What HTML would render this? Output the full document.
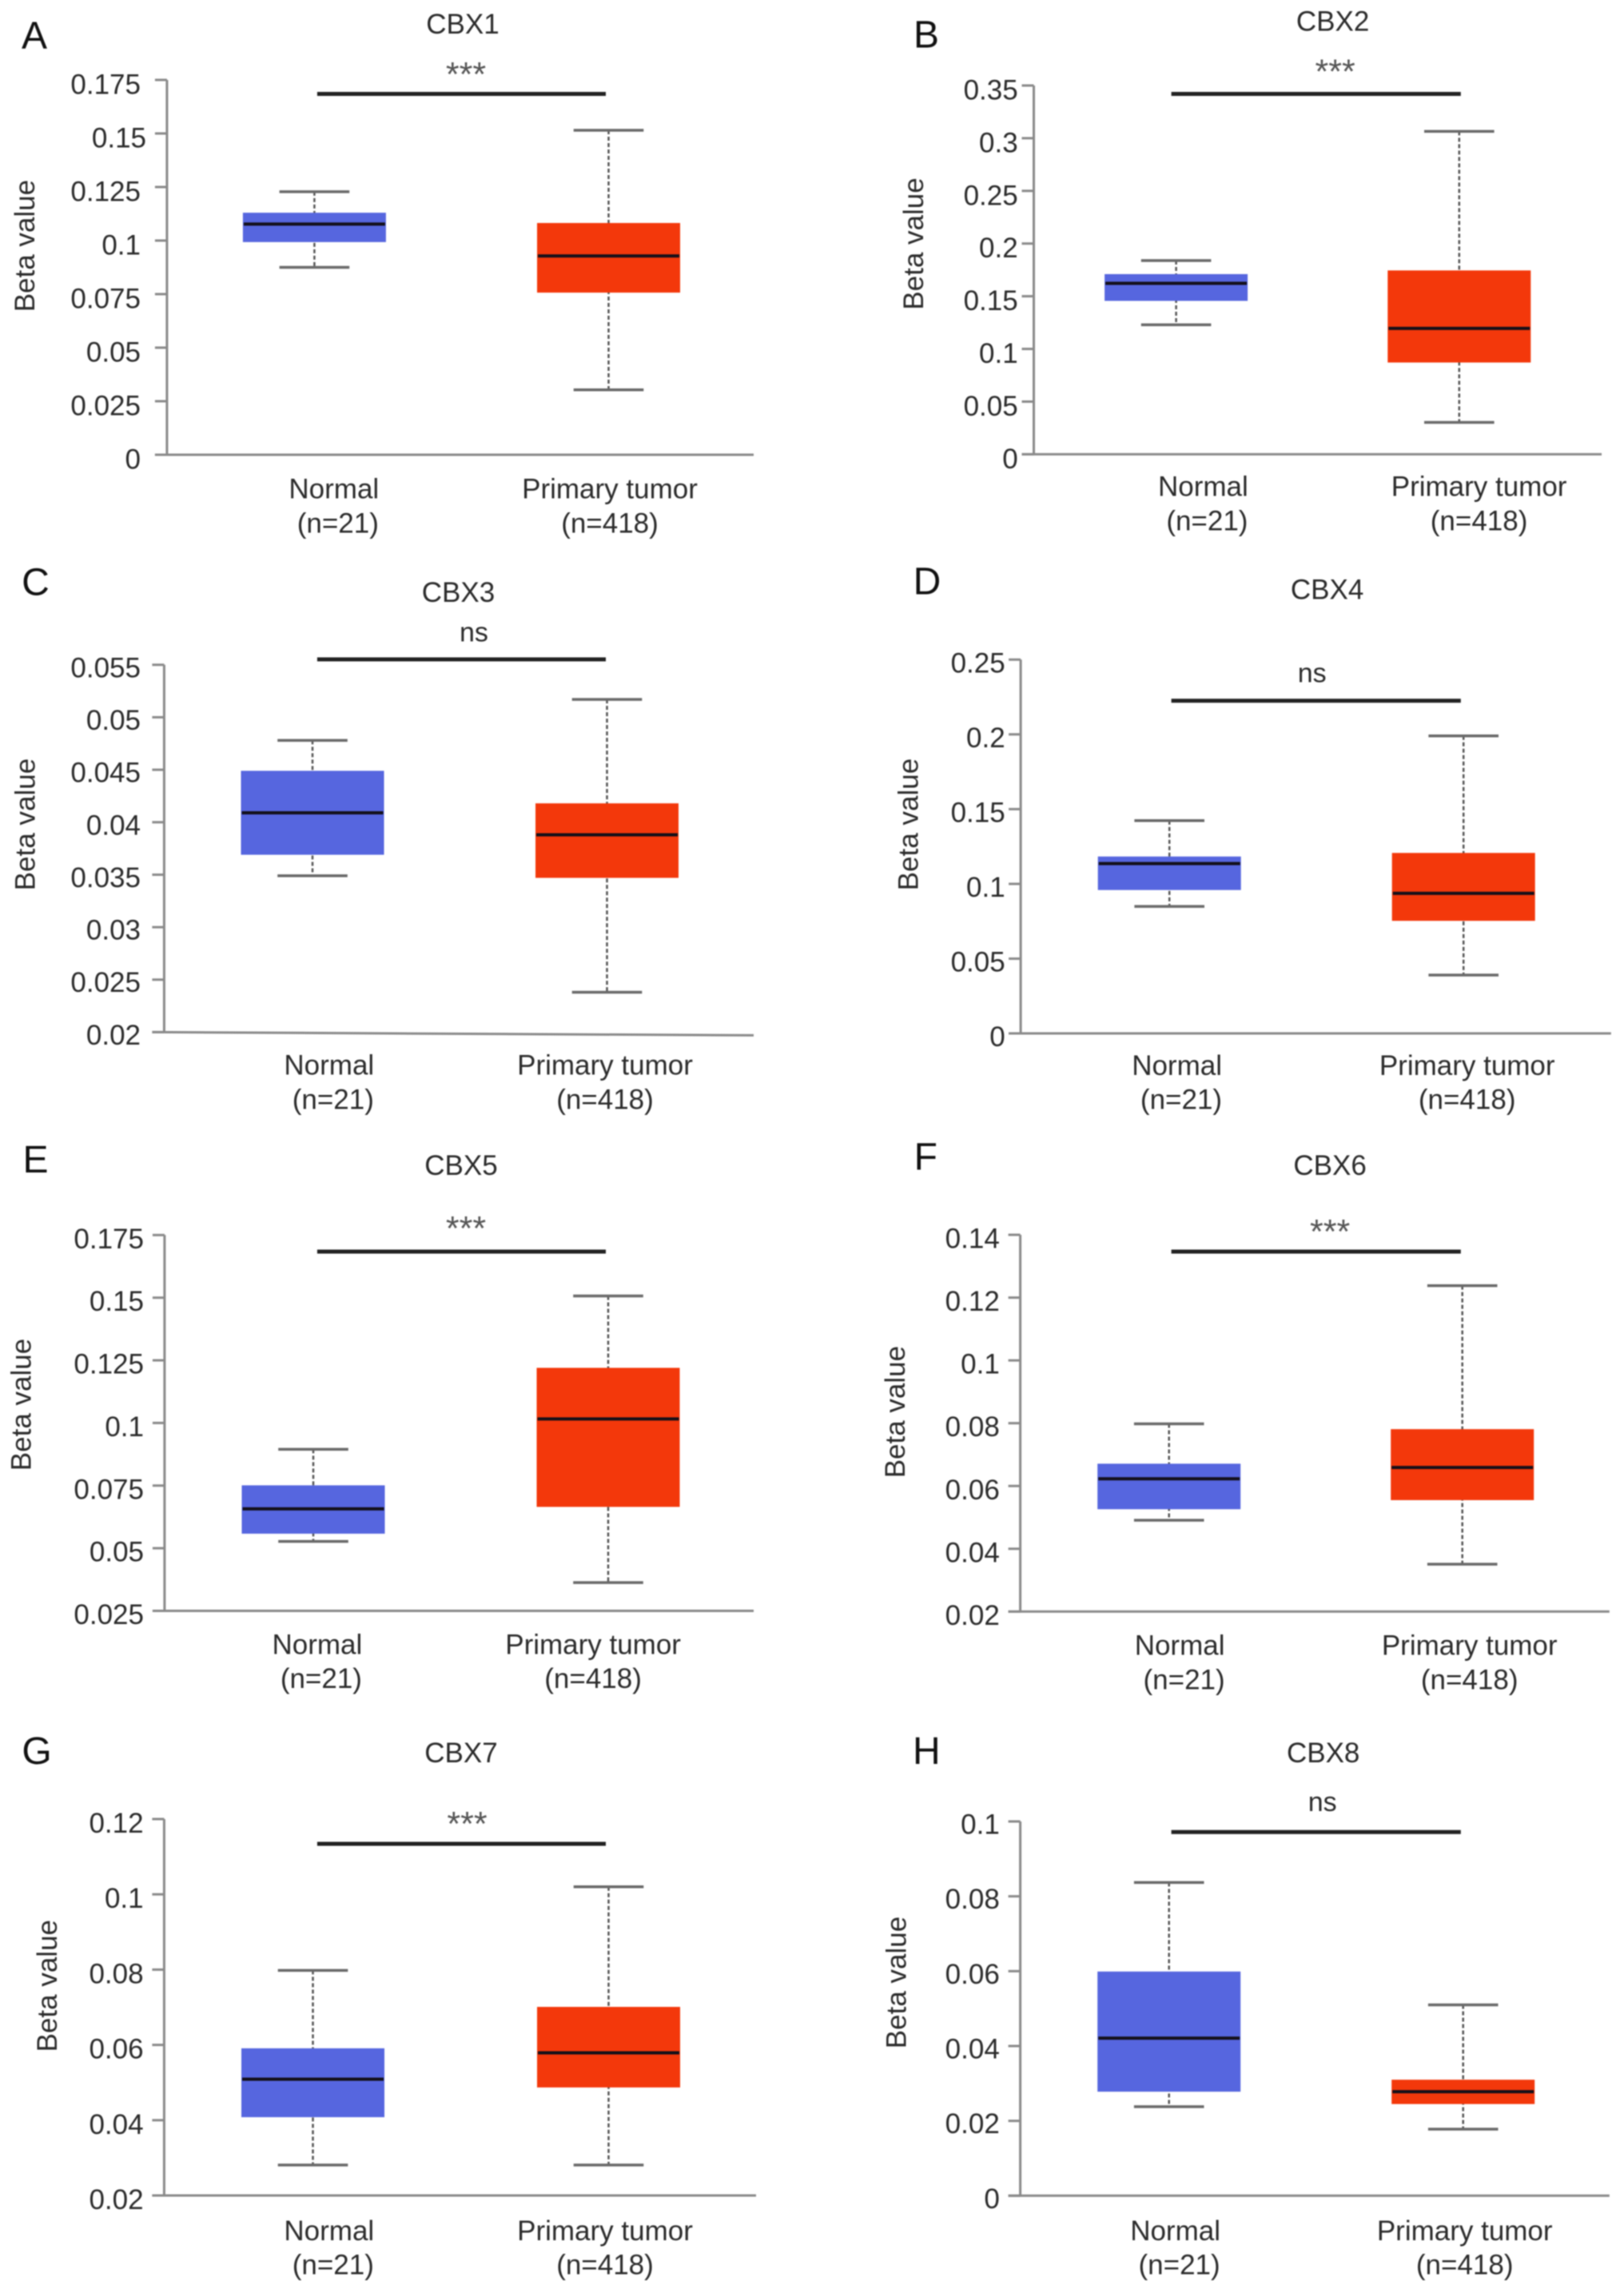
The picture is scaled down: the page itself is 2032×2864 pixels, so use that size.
<!DOCTYPE html>
<html lang="en">
<head>
<meta charset="utf-8">
<title>CBX1-8 beta value box plots</title>
<style>
  html, body { margin: 0; padding: 0; background: #fff; width: 2032px; height: 2864px; overflow: hidden; }
  svg { display: block; filter: blur(0.7px); }
  text { font-family: "Liberation Sans", Arial, sans-serif; fill: #2b2b2b; }
</style>
</head>
<body>
<svg id="figure" xmlns="http://www.w3.org/2000/svg" width="2032" height="2864" viewBox="0 0 2032 2864"></svg>
<script>
// ---- data ----
const panelLetters = ['A', 'B', 'C', 'D', 'E', 'F', 'G', 'H'];
const geneNames = ['CBX1', 'CBX2', 'CBX3', 'CBX4', 'CBX5', 'CBX6', 'CBX7', 'CBX8'];
const significance = ['***', '***', 'ns', 'ns', '***', '***', '***', 'ns'];
const categories = ['Normal', 'Primary tumor'];
const sampleSizes = ['(n=21)', '(n=418)'];
const yAxisTitle = 'Beta value';

const tickLabels = [
  ['0', '0.025', '0.05', '0.075', '0.1', '0.125', '0.15', '0.175'],
  ['0', '0.05', '0.1', '0.15', '0.2', '0.25', '0.3', '0.35'],
  ['0.02', '0.025', '0.03', '0.035', '0.04', '0.045', '0.05', '0.055'],
  ['0', '0.05', '0.1', '0.15', '0.2', '0.25'],
  ['0.025', '0.05', '0.075', '0.1', '0.125', '0.15', '0.175'],
  ['0.02', '0.04', '0.06', '0.08', '0.1', '0.12', '0.14'],
  ['0.02', '0.04', '0.06', '0.08', '0.1', '0.12'],
  ['0', '0.02', '0.04', '0.06', '0.08', '0.1']
];

const normalHigh   = [0.1228, 0.1839, 0.0478, 0.1423, 0.0895, 0.0798, 0.0798, 0.0837];
const normalQ3     = [0.1130, 0.1710, 0.0449, 0.1183, 0.0751, 0.0671, 0.0591, 0.0599];
const normalMedian = [0.1077, 0.1623, 0.0409, 0.1136, 0.0657, 0.0623, 0.0509, 0.0421];
const normalQ1     = [0.0993, 0.1456, 0.0369, 0.0959, 0.0558, 0.0526, 0.0408, 0.0278];
const normalLow    = [0.0875, 0.1229, 0.0349, 0.0849, 0.0527, 0.0491, 0.0281, 0.0238];

const tumorHigh    = [0.1515, 0.3065, 0.0517, 0.1990, 0.1507, 0.1238, 0.1020, 0.0510];
const tumorQ3      = [0.1082, 0.1745, 0.0418, 0.1207, 0.1220, 0.0781, 0.0701, 0.0310];
const tumorMedian  = [0.0928, 0.1195, 0.0388, 0.0937, 0.1016, 0.0659, 0.0579, 0.0278];
const tumorQ1      = [0.0757, 0.0871, 0.0347, 0.0753, 0.0665, 0.0555, 0.0487, 0.0245];
const tumorLow     = [0.0303, 0.0303, 0.0238, 0.0390, 0.0363, 0.0351, 0.0281, 0.0178];

// ---- page layout of each panel (not data) ----
const panelFrames = [
  {ax:208.9,  top:100,    bottom:569,    right:943,    tilt:0, cx:[393.4,761.5],   sig:[396.9,758,117.5],     title:[579,30],      mark:[583,86],       letter:[43,44.5],     beta:[30.4,307.6],   tickEnd:176,    tickDy:17.5, catX:[417.8,763],    subX:[422.8,763],    catY:[611,654]},
  {ax:1293.5, top:107,    bottom:568.4,  right:2004,   tilt:0, cx:[1471.6,1825.8], sig:[1465.6,1827.8,117.5], title:[1667.6,26.6], mark:[1670.6,82.6],  letter:[1159,43.6],   beta:[1142.3,305],   tickEnd:1273.7, tickDy:17.5, catX:[1505.4,1850.6],subX:[1510.4,1850.6],catY:[608,651]},
  {ax:205.4,  top:831.8,  bottom:1291.4, right:943,    tilt:4, cx:[391,759.5],     sig:[396.9,758,825],       title:[573.5,741],   mark:[592.9,792],    letter:[44.5,728.5],  beta:[30.8,1031.5],  tickEnd:176,    tickDy:15.5, catX:[411.8,757],    subX:[416.8,757],    catY:[1332,1375]},
  {ax:1277.1, top:825.3,  bottom:1293,   right:2015.8, tilt:0, cx:[1463.2,1831.2], sig:[1465.6,1827.8,876.8], title:[1660.6,737.6],mark:[1641.7,843],   letter:[1159.9,727.5],beta:[1135.9,1031.5],tickEnd:1257.7, tickDy:16,   catX:[1472.6,1835.7],subX:[1478,1835.7],  catY:[1332.7,1375]},
  {ax:205.9,  top:1545.3, bottom:2015.5, right:943,    tilt:0, cx:[392,761],       sig:[396.9,758,1566],      title:[577,1458],    mark:[583,1530],     letter:[44.5,1451],   beta:[25.9,1757.5],  tickEnd:180,    tickDy:16.5, catX:[396.9,742.1],  subX:[401.9,742.1],  catY:[2057,2099.5]},
  {ax:1276.6, top:1545,   bottom:2016.4, right:2013.8, tilt:0, cx:[1462.7,1829.7], sig:[1465.6,1827.8,1566],  title:[1664.1,1458], mark:[1664.1,1534],  letter:[1158.3,1447.5],beta:[1119.5,1766.6],tickEnd:1250.8, tickDy:16.5, catX:[1476.1,1838.7],subX:[1481.6,1838.7],catY:[2058,2101]},
  {ax:205.4,  top:2276,   bottom:2747,   right:946,    tilt:0, cx:[391.5,761.5],   sig:[396.9,758,2307],      title:[577,2193],    mark:[584.5,2275],   letter:[46,2191],     beta:[58.3,2484.7],  tickEnd:179.6,  tickDy:17,   catX:[411.8,757],    subX:[416.8,757],    catY:[2790.5,2833]},
  {ax:1276.6, top:2279,   bottom:2747.3, right:2013.8, tilt:0, cx:[1462.7,1830.7], sig:[1465.6,1827.8,2292.3],title:[1655.7,2193], mark:[1654.7,2255.6],letter:[1159.3,2191], beta:[1121,2480.5],  tickEnd:1250.8, tickDy:15.5, catX:[1470.6,1832.7],subX:[1475.6,1832.7],catY:[2790.5,2833]}
];

// ---- drawing ----
const SVG_NS = 'http://www.w3.org/2000/svg';
const root = document.getElementById('figure');

function make(parent, tag, attrs) {
  const el = document.createElementNS(SVG_NS, tag);
  for (const k in attrs) el.setAttribute(k, attrs[k]);
  parent.appendChild(el);
  return el;
}
function line(parent, x1, y1, x2, y2, stroke, width, dash) {
  const attrs = {x1: x1, y1: y1, x2: x2, y2: y2, stroke: stroke, 'stroke-width': width};
  if (dash) attrs['stroke-dasharray'] = dash;
  return make(parent, 'line', attrs);
}
function label(parent, x, y, str, size, anchor) {
  const el = make(parent, 'text', {x: x, y: y, 'font-size': size, 'text-anchor': anchor || 'middle'});
  el.textContent = str;
  return el;
}

const AXIS_COLOR = '#8a8a8a';
const CAP_COLOR = '#6a6a6a';
const BOX_COLORS = ['#5666df', '#f3380b'];
const BOX_HALF = 89.5;
const CAP_HALF = 43.8;

function drawBox(group, i, slot, name, yScale, high, q3, med, q1, low) {
  const f = panelFrames[i];
  const cx = f.cx[slot];
  const box = make(group, 'g', {});
  
  

  const whisker = line(box, cx, yScale(high), cx, yScale(low), '#555', 2.5, '5 3');
  
  

  const capHigh = line(box, cx - CAP_HALF, yScale(high), cx + CAP_HALF, yScale(high), CAP_COLOR, 3.5);
  
  

  const capLow = line(box, cx - CAP_HALF, yScale(low), cx + CAP_HALF, yScale(low), CAP_COLOR, 3.5);
  
  

  const rect = make(box, 'rect', {x: cx - BOX_HALF, y: yScale(q3), width: BOX_HALF * 2, height: yScale(q1) - yScale(q3), fill: BOX_COLORS[slot]});
  
  

  const medLine = line(box, cx - BOX_HALF + 1, yScale(med), cx + BOX_HALF - 1, yScale(med), '#14101a', 4);
  
  
}

panelFrames.forEach(function (f, i) {
  const ticks = tickLabels[i];
  const vMin = parseFloat(ticks[0]);
  const vMax = parseFloat(ticks[ticks.length - 1]);
  const yScale = function (v) { return f.bottom - (v - vMin) / (vMax - vMin) * (f.bottom - f.top); };
  const gene = geneNames[i].toLowerCase();

  const panel = make(root, 'g', {});
  
  

  const letter = label(panel, f.letter[0], f.letter[1] + 16, panelLetters[i], 48);
  letter.style.fill = '#111';
  
  

  const title = label(panel, f.title[0], f.title[1] + 11.8, geneNames[i], 35);
  
  

  const isStars = significance[i] === '***';
  const mark = label(panel, f.mark[0], f.mark[1] + (isStars ? 21.5 : 10.5), significance[i], isStars ? 43 : 34);
  if (isStars) mark.style.fill = '#555';
  
  

  const sigLine = line(panel, f.sig[0], f.sig[2], f.sig[1], f.sig[2], '#222', 5);
  
  

  const betaX = f.beta[0] + 12.5;
  const beta = make(panel, 'text', {x: betaX, y: f.beta[1], 'font-size': 35, 'text-anchor': 'middle', transform: 'rotate(-90 ' + betaX + ' ' + f.beta[1] + ')'});
  beta.textContent = yAxisTitle;
  
  

  const yAxis = line(panel, f.ax, f.top, f.ax, f.bottom, AXIS_COLOR, 3);
  
  

  const xAxis = line(panel, f.ax - 15, f.bottom, f.right, f.bottom + f.tilt, AXIS_COLOR, 3);
  
  

  ticks.forEach(function (t) {
    const y = yScale(parseFloat(t));
    const mk = line(panel, f.ax - 15, y, f.ax, y, AXIS_COLOR, 3);
    
    
    // the 0.15 label of panel A sits further right in the reference
    const nudge = (i === 0 && t === '0.15') ? 7 : 0;
    const tl = label(panel, f.tickEnd + nudge, y + f.tickDy, t, 35, 'end');
    
    
  });

  drawBox(panel, i, 0, 'normal', yScale, normalHigh[i], normalQ3[i], normalMedian[i], normalQ1[i], normalLow[i]);
  drawBox(panel, i, 1, 'primary-tumor', yScale, tumorHigh[i], tumorQ3[i], tumorMedian[i], tumorQ1[i], tumorLow[i]);

  categories.forEach(function (c, k) {
    const cat = label(panel, f.catX[k], f.catY[0] + 12.5, c, 35);
    
    
    const n = label(panel, f.subX[k], f.catY[1] + 12.5, sampleSizes[k], 35);
    
    
  });
});
</script>
</body>
</html>
